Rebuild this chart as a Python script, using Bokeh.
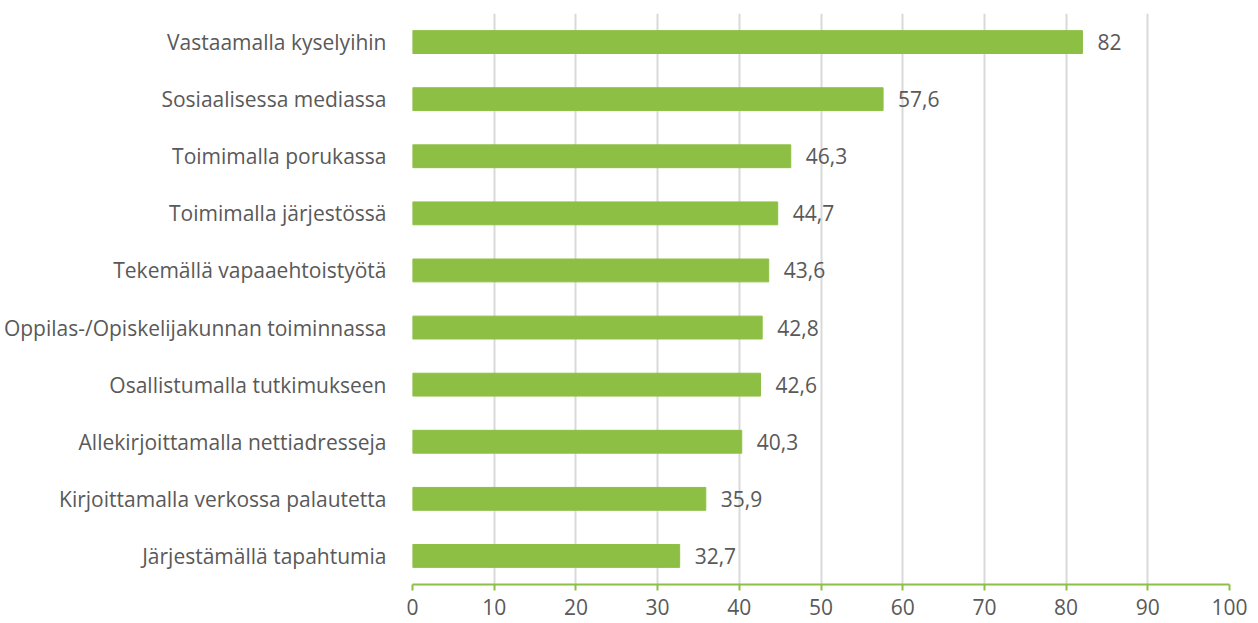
from bokeh.plotting import figure
from bokeh.models import ColumnDataSource, FactorRange, Range1d, FixedTicker
from bokeh.core.properties import value
from bokeh.embed import file_html
from bokeh.resources import INLINE

categories = [
    "Vastaamalla kyselyihin",
    "Sosiaalisessa mediassa",
    "Toimimalla porukassa",
    "Toimimalla järjestössä",
    "Tekemällä vapaaehtoistyötä",
    "Oppilas-/Opiskelijakunnan toiminnassa",
    "Osallistumalla tutkimukseen",
    "Allekirjoittamalla nettiadresseja",
    "Kirjoittamalla verkossa palautetta",
    "Järjestämällä tapahtumia",
]
values = [82, 57.6, 46.3, 44.7, 43.6, 42.8, 42.6, 40.3, 35.9, 32.7]
x_ticks = [0, 10, 20, 30, 40, 50, 60, 70, 80, 90, 100]

FONT = "Open Sans"
TEXT_COLOR = "#595959"
BAR_COLOR = "#8DBF44"
FS = "21px"

labels = [f"{v:g}".replace(".", ",") for v in values]
src = ColumnDataSource(dict(cat=categories, val=values, lab=labels))

p = figure(
    width=1258, height=623,
    y_range=FactorRange(factors=list(reversed(categories))),
    x_range=Range1d(0, 100),
    output_backend="svg", toolbar_location=None,
    min_border_left=412, min_border_right=29, min_border_top=13, min_border_bottom=39,
)
p.outline_line_color = None

p.hbar(y="cat", right="val", height=0.4, source=src, color=BAR_COLOR)
p.text(x="val", y="cat", text="lab", source=src, x_offset=15,
       text_align="left", text_baseline="middle",
       text_font=value(FONT), text_font_size=FS, text_color=TEXT_COLOR)

p.xaxis.ticker = FixedTicker(ticks=x_ticks)
p.xaxis.axis_line_color = BAR_COLOR
p.xaxis.axis_line_width = 2
p.xaxis.major_tick_line_color = BAR_COLOR
p.xaxis.major_tick_line_width = 2
p.xaxis.major_tick_out = 6
p.xaxis.major_tick_in = 0
p.xaxis.minor_tick_line_color = None
p.xaxis.major_label_text_font = FONT
p.xaxis.major_label_text_font_size = FS
p.xaxis.major_label_text_color = TEXT_COLOR
p.xaxis.major_label_standoff = 8

p.yaxis.axis_line_color = None
p.yaxis.major_tick_line_color = None
p.yaxis.minor_tick_line_color = None
p.yaxis.major_label_text_font = FONT
p.yaxis.major_label_text_font_size = FS
p.yaxis.major_label_text_color = TEXT_COLOR
p.yaxis.major_label_standoff = 20

p.ygrid.grid_line_color = None
p.xgrid.grid_line_color = "#D9D9D9"
p.xgrid.grid_line_width = 2

open("out.html", "w").write(file_html(p, INLINE))
